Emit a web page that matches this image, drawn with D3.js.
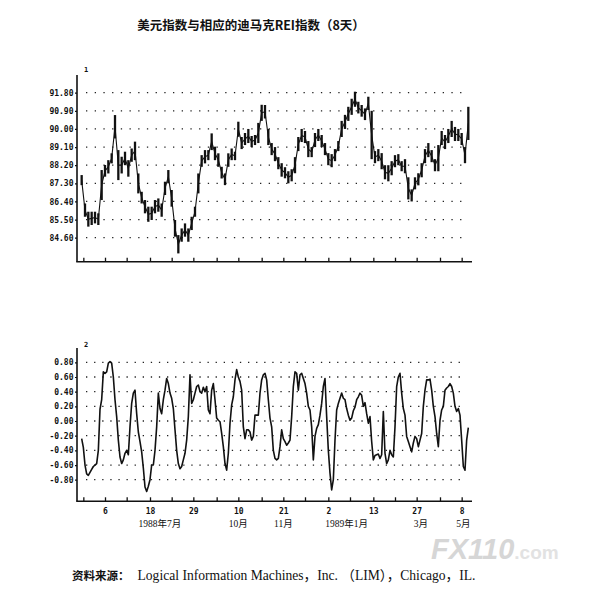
<!DOCTYPE html>
<html><head><meta charset="utf-8">
<script src="https://cdn.jsdelivr.net/npm/d3@7"></script>
<style>body{margin:0;background:#fff}</style></head>
<body><svg id="c" width="593" height="589"></svg>
<script>
// ---- data ----
const topHigh = [87.71,86.30,85.89,85.89,85.89,85.81,87.96,88.21,88.45,88.79,
 90.69,88.95,88.62,88.87,88.45,89.03,89.37,87.79,86.88,86.47,
 86.14,86.14,86.47,86.55,86.30,87.38,87.96,86.97,85.48,84.73,
 85.06,85.31,85.06,85.64,86.14,87.79,88.70,88.95,88.95,89.78,
 89.12,88.79,88.12,87.79,88.79,89.03,88.87,90.36,89.60,89.80,
 90.00,89.65,89.70,90.30,91.20,91.19,90.00,89.30,89.10,88.60,
 88.30,88.10,87.90,88.00,88.60,89.60,90.00,89.90,89.40,89.10,
 89.80,90.00,89.70,89.30,88.80,88.75,89.00,89.40,90.40,90.70,
 91.10,91.50,91.85,91.35,91.19,91.02,91.60,90.90,88.90,89.00,
 88.80,88.20,88.20,88.40,88.70,88.75,88.40,88.50,87.60,87.00,
 87.60,87.80,88.30,89.00,89.30,88.95,88.50,89.20,89.90,89.70,
 90.00,90.40,90.10,90.00,89.80,89.10,91.10];
const topLow = [87.21,85.64,85.15,85.23,85.31,85.23,86.47,87.63,87.79,88.29,
 89.53,87.46,87.79,88.20,87.63,88.37,88.45,86.80,86.30,85.81,
 85.39,85.48,85.81,85.89,85.64,86.72,87.30,86.14,84.65,83.82,
 84.40,84.65,84.40,84.98,85.64,86.80,88.12,88.29,88.45,88.95,
 88.45,88.12,87.54,87.21,88.12,88.45,88.45,89.61,89.00,89.20,
 89.30,89.10,89.20,89.30,90.40,90.52,89.20,88.70,88.40,88.00,
 87.63,87.55,87.30,87.40,87.80,88.90,89.35,89.30,88.60,88.60,
 89.10,89.40,89.10,88.70,88.20,88.10,88.40,88.90,89.60,90.00,
 90.40,90.70,91.10,90.77,90.61,90.44,90.94,88.50,88.30,88.40,
 88.00,87.50,87.40,87.70,88.10,88.20,87.90,87.80,86.50,86.40,
 87.00,87.20,87.60,88.30,88.60,88.35,87.90,87.90,89.20,89.00,
 89.30,89.60,89.40,89.40,89.20,88.30,89.45];
const rei = [-0.24,-0.36,-0.60,-0.72,-0.74,-0.70,-0.66,-0.62,-0.60,-0.58,
 -0.40,0.16,0.29,0.67,0.65,0.67,0.79,0.81,0.79,0.60,
 0.29,0.06,-0.26,-0.49,-0.58,-0.53,-0.44,-0.40,-0.46,-0.08,
 0.24,0.38,0.42,0.10,-0.15,-0.28,-0.42,-0.64,-0.90,-0.96,
 -0.89,-0.80,-0.60,-0.60,-0.40,-0.08,0.38,0.17,0.10,0.29,
 0.42,0.58,0.51,0.38,0.31,0.17,-0.12,-0.40,-0.58,-0.65,
 -0.62,-0.53,-0.44,-0.26,0.06,0.63,0.24,0.29,0.38,0.47,
 0.49,0.40,0.38,0.46,0.40,0.47,0.15,0.10,0.42,0.51,
 0.29,0.04,0.01,-0.01,-0.17,-0.35,-0.58,-0.67,-0.44,-0.03,
 0.22,0.33,0.56,0.70,0.60,0.54,0.42,-0.08,-0.24,-0.12,
 -0.12,-0.15,-0.26,-0.21,0.08,0.08,0.08,0.38,0.56,0.63,
 0.65,0.56,0.29,0.04,-0.08,-0.40,-0.51,-0.53,-0.51,-0.35,
 -0.12,-0.24,-0.28,-0.33,-0.30,-0.26,0.06,0.47,0.67,0.65,
 0.42,0.63,0.65,0.58,0.51,0.38,0.20,0.15,-0.08,-0.53,
 -0.21,-0.10,-0.05,0.08,0.24,0.47,0.58,0.06,-0.40,-0.71,
 -0.94,-0.80,-0.26,0.15,0.24,0.31,0.38,0.31,0.29,0.17,
 0.08,0.01,0.04,0.14,0.19,0.29,0.33,0.38,0.35,0.20,
 0.25,0.10,-0.03,0.06,-0.28,-0.53,-0.47,-0.46,-0.45,-0.51,
 -0.46,0.13,-0.44,-0.58,-0.53,-0.40,-0.46,-0.49,-0.08,0.47,
 0.60,0.65,0.38,0.17,0.08,-0.21,-0.28,-0.35,-0.42,-0.30,
 -0.21,-0.24,-0.35,-0.26,-0.17,0.20,0.42,0.56,0.56,0.57,
 0.42,0.20,0.06,-0.17,-0.35,0.01,0.15,0.20,0.42,0.45,
 0.47,0.51,0.47,0.38,0.20,0.13,0.17,0.08,-0.26,-0.62,
 -0.67,-0.26,-0.09];
const topTicks = [84.60,85.50,86.40,87.30,88.20,89.10,90.00,90.90,91.80];
const botTicks = [-0.80,-0.60,-0.40,-0.20,0.00,0.20,0.40,0.60,0.80];
const tickDays = [1,14,27,41,54,67,81,94,108,121,134,148,161,175,188,201,215,228];
const dayLabels = ["","6","","18","","29","","10","","21","","2","","13","","27","","8"];
const monthLabels = ["1988年7月","10月","11月","1989年1月","3月","5月"];
const monthDays = [47,94,121,159,203.5,229];
const title = "美元指数与相应的迪马克REI指数（8天）";
const sourceLead = "资料来源：";
const sourceText = "Logical Information Machines，Inc. （LIM），Chicago，IL.";

// ---- drawing ----
const svg = d3.select("#c");
const ink = "#111";
const x = d3.scaleLinear().domain([0, 232]).range([81.67, 468.33]);
const yTop = d3.scaleLinear().domain([84.6, 91.8]).range([237.7, 92.7]);
const yBot = d3.scaleLinear().domain([-0.8, 0.8]).range([479.7, 362.3]);
const fmt = v => d3.format(".2f")(v).replace("\u2212", "-");
const monoFont = "'DejaVu Sans Mono', monospace";

svg.append("text").attr("x", 251).attr("y", 30).attr("text-anchor", "middle")
  .attr("font-family", "'Noto Sans CJK SC', sans-serif").attr("font-weight", 700)
  .attr("font-size", 12.5).attr("fill", ink).text(title);

function panel(yScale, ticks, axTop, axBot, period, label, labelY, showX) {
  const g = svg.append("g");
  g.selectAll("line.grid").data(ticks).join("line").attr("class", "grid")
    .attr("x1", 86).attr("x2", 463)
    .attr("y1", d => yScale(d)).attr("y2", d => yScale(d))
    .attr("stroke", "#222").attr("stroke-width", 1.3)
    .attr("stroke-dasharray", "1.3," + (period - 1.3));
  const ya = g.append("g").attr("transform", "translate(77,0)")
    .call(d3.axisLeft(yScale).tickValues(ticks).tickSize(2).tickPadding(1.5).tickFormat(fmt));
  ya.select(".domain").remove();
  ya.selectAll("line").attr("stroke", ink).attr("stroke-width", 1.2);
  ya.selectAll("text").attr("font-family", monoFont).attr("font-size", 8)
    .attr("font-weight", "bold").attr("fill", ink);
  g.append("line").attr("x1", 77).attr("x2", 77).attr("y1", axTop).attr("y2", axBot)
    .attr("stroke", ink).attr("stroke-width", 1.6);
  const xa = g.append("g").attr("transform", `translate(0,${axBot})`)
    .call(d3.axisBottom(x).tickValues(tickDays).tickSize(-4).tickPadding(7)
      .tickFormat((d, i) => showX ? dayLabels[i] : ""));
  xa.select(".domain").remove();
  xa.selectAll("line").attr("stroke", ink).attr("stroke-width", 1.3);
  xa.selectAll("text").attr("font-family", monoFont).attr("font-size", 8)
    .attr("font-weight", "bold").attr("fill", ink);
  g.append("line").attr("x1", 76.2).attr("x2", 472).attr("y1", axBot).attr("y2", axBot)
    .attr("stroke", ink).attr("stroke-width", 1.6);
  g.append("text").attr("x", 84).attr("y", labelY).attr("font-family", monoFont)
    .attr("font-size", 7).attr("font-weight", "bold").attr("fill", ink).text(label);
  return g;
}

const g1 = panel(yTop, topTicks, 75, 261.7, 8.7, "1", 72, false);
g1.selectAll("line.bar").data(topHigh).join("line").attr("class", "bar")
  .attr("x1", (d, i) => x(2 * i)).attr("x2", (d, i) => x(2 * i))
  .attr("y1", d => yTop(d)).attr("y2", (d, i) => yTop(topLow[i]))
  .attr("stroke", ink).attr("stroke-width", 2.3);
g1.append("path").datum(topHigh)
  .attr("d", d3.line().x((d, i) => x(2 * i)).y((d, i) => yTop((d + topLow[i]) / 2)))
  .attr("fill", "none").attr("stroke", ink).attr("stroke-width", 1.1);

const g2 = panel(yBot, botTicks, 348, 501.3, 8.1, "2", 347, true);
g2.append("path").datum(rei)
  .attr("d", d3.line().x((d, i) => x(i)).y(d => yBot(d)))
  .attr("fill", "none").attr("stroke", ink).attr("stroke-width", 1.6)
  .attr("stroke-linejoin", "round");

svg.selectAll("text.month").data(monthLabels).join("text").attr("class", "month")
  .attr("x", (d, i) => x(monthDays[i])).attr("y", 527).attr("text-anchor", "middle")
  .attr("font-family", "'Liberation Serif', 'Noto Sans CJK SC', serif")
  .attr("font-size", 9.5).attr("fill", ink).text(d => d);

// watermark
const wm = svg.append("text").attr("x", 431).attr("y", 559)
  .attr("font-family", "'Liberation Sans', sans-serif").attr("font-weight", "bold");
wm.append("tspan").attr("font-size", 29).attr("fill", "#d6d6d6").attr("font-style", "italic").text("FX110");
wm.append("tspan").attr("font-size", 19).attr("fill", "#e2e2e2").text(".com");

// source
const src = svg.append("text").attr("x", 72).attr("y", 580).attr("fill", ink);
src.append("tspan").attr("font-family", "'Noto Sans CJK SC', sans-serif").attr("font-weight", 700)
  .attr("font-size", 11.5).text(sourceLead);
src.append("tspan").attr("dx", 8).attr("font-family", "'Liberation Serif', 'Noto Sans CJK SC', serif")
  .attr("font-size", 13.6).text(sourceText);
</script></body></html>
